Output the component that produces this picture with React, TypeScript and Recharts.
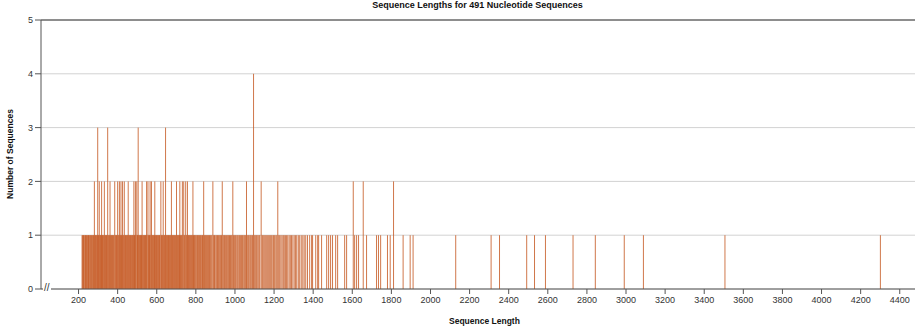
import React from 'react';
import { BarChart, Bar, XAxis, YAxis, CartesianGrid, ReferenceLine } from 'recharts';

// lengths seen once
const singles = [
  218, 221, 224, 226, 229, 233, 236, 238, 241, 245, 248, 251, 253, 257, 260, 263, 266, 270, 273, 276, 279, 284, 287, 290, 293, 296,
  301, 303, 309, 311, 314, 316, 321, 323, 326, 329, 335, 337, 340, 343, 346, 352, 355, 358, 364, 367, 370, 372, 375, 378, 381, 388, 391, 394, 397,
  403, 406, 412, 414, 420, 422, 428, 431, 437, 440, 443, 446, 449, 452, 457, 460, 463, 466, 469, 472, 475, 478, 480, 486, 488, 494,
  501, 503, 508, 511, 514, 517, 520, 522, 528, 531, 534, 537, 540, 543, 545, 551, 558, 561, 563, 569, 576, 579, 582, 585, 588, 593, 596, 599,
  602, 605, 608, 611, 614, 617, 624, 627, 630, 636, 639, 642, 648, 651, 654, 657, 660, 663, 666, 669, 672, 678, 681, 684, 687, 690, 693, 696,
  704, 707, 710, 713, 716, 721, 724, 727, 734, 741, 744, 751, 754, 760, 763, 766, 769, 772, 776, 779, 782, 788, 791, 794, 797,
  801, 805, 808, 812, 815, 819, 823, 826, 830, 834, 837, 844, 848, 851, 855, 859, 863, 866, 870, 874, 878, 882, 891, 895, 898,
  903, 907, 911, 915, 919, 923, 927, 931, 939, 943, 947, 951, 956, 960, 964, 968, 972, 977, 981, 985, 993, 997,
  1002, 1006, 1011, 1015, 1020, 1024, 1029, 1033, 1038, 1042, 1047, 1051, 1055, 1063, 1068, 1072, 1077, 1081, 1086, 1090, 1099,
  1104, 1109, 1113, 1118, 1123, 1127, 1139, 1143, 1148, 1153, 1158, 1163, 1168, 1173, 1178, 1183, 1188, 1194, 1198,
  1203, 1209, 1214, 1224, 1229, 1235, 1241, 1247, 1252, 1258, 1264, 1270, 1277, 1283, 1289, 1296,
  1303, 1310, 1316, 1324, 1331, 1339, 1347, 1354, 1362, 1371,
  1382, 1392, 1397, 1413, 1423, 1428, 1443, 1469, 1479, 1489, 1499, 1515, 1525, 1561, 1571, 1612, 1622, 1632, 1673,
  1724, 1734, 1745, 1780, 1794, 1860, 1896, 1911,
  2129, 2310, 2353, 2492, 2532, 2588, 2729, 2843, 2991, 3089, 3506, 4301,
];

// lengths seen twice
const doubles = [
  281, 306, 318, 332, 361, 385, 400, 409, 417, 425, 434, 454, 483, 491, 498, 525, 548, 555, 566, 573, 590,
  621, 633, 675, 701, 718, 731, 738, 748, 757, 785, 840, 887, 935, 989, 1059, 1134, 1219, 1605, 1656, 1811,
];

const triples = [298, 349, 505, 645];
const quads = [1095];

const xTicks = [200, 400, 600, 800, 1000, 1200, 1400, 1600, 1800, 2000, 2200, 2400, 2600, 2800, 3000, 3200, 3400, 3600, 3800, 4000, 4200, 4400];
const yTicks = [0, 1, 2, 3, 4, 5];

const data = [
  ...singles.map((len) => ({ len, count: 1 })),
  ...doubles.map((len) => ({ len, count: 2 })),
  ...triples.map((len) => ({ len, count: 3 })),
  ...quads.map((len) => ({ len, count: 4 })),
].sort((a, b) => a.len - b.len);

// 1px line per length; overlapping lines build up the darker orange
const LineBar = (props: any) => {
  const { x, y, width, height, fill } = props;
  if (height == null || height <= 0) return null;
  const cx = x + (width || 0) / 2;
  return <rect x={cx - 0.5} y={y} width={1} height={height} fill={fill} fillOpacity={0.82} />;
};

export default function App() {
  return (
    <div
      style={{
        position: 'absolute',
        left: 0,
        top: 0,
        width: 915,
        height: 333,
        background: '#fff',
        fontFamily: '"Liberation Sans", Arial, sans-serif',
        overflow: 'hidden',
      }}
    >
      <div style={{ position: 'absolute', top: 0, left: 0, width: 955, textAlign: 'center', fontSize: 9, fontWeight: 'bold', color: '#111', lineHeight: '10px' }}>
        Sequence Lengths for 491 Nucleotide Sequences
      </div>
      <div
        style={{
          position: 'absolute',
          left: 10,
          top: 154,
          transform: 'translate(-50%, -50%) rotate(-90deg)',
          fontSize: 8.5,
          fontWeight: 'bold',
          color: '#111',
          whiteSpace: 'nowrap',
        }}
      >
        Number of Sequences
      </div>
      <div style={{ position: 'absolute', top: 316, left: 449, fontSize: 8.5, fontWeight: 'bold', color: '#111', whiteSpace: 'nowrap' }}>
        Sequence Length
      </div>
      <BarChart width={915} height={333} data={data} margin={{ top: 20, right: 0, bottom: 14, left: 0 }}>
        <CartesianGrid vertical={false} stroke="#d2d2d2" strokeWidth={1} />
        <XAxis
          dataKey="len"
          type="number"
          domain={[8, 4478]}
          allowDataOverflow
          ticks={xTicks}
          interval={0}
          height={30}
          tickSize={5}
          tickMargin={3}
          tick={{ fontSize: 9, fill: '#333' }}
          stroke="#555"
        />
        <YAxis
          type="number"
          domain={[0, 5]}
          ticks={yTicks}
          width={41}
          tickSize={6}
          tickMargin={2}
          tick={{ fontSize: 9, fill: '#333' }}
          stroke="#555"
        />
        <ReferenceLine y={5} stroke="#333" strokeWidth={1} />
        <Bar dataKey="count" fill="#c65a24" shape={LineBar} isAnimationActive={false} />
      </BarChart>
      <div style={{ position: 'absolute', left: 43, top: 282, fontSize: 10, color: '#333', background: '#fff', lineHeight: '12px', padding: '0 1px' }}>
        //
      </div>
    </div>
  );
}
